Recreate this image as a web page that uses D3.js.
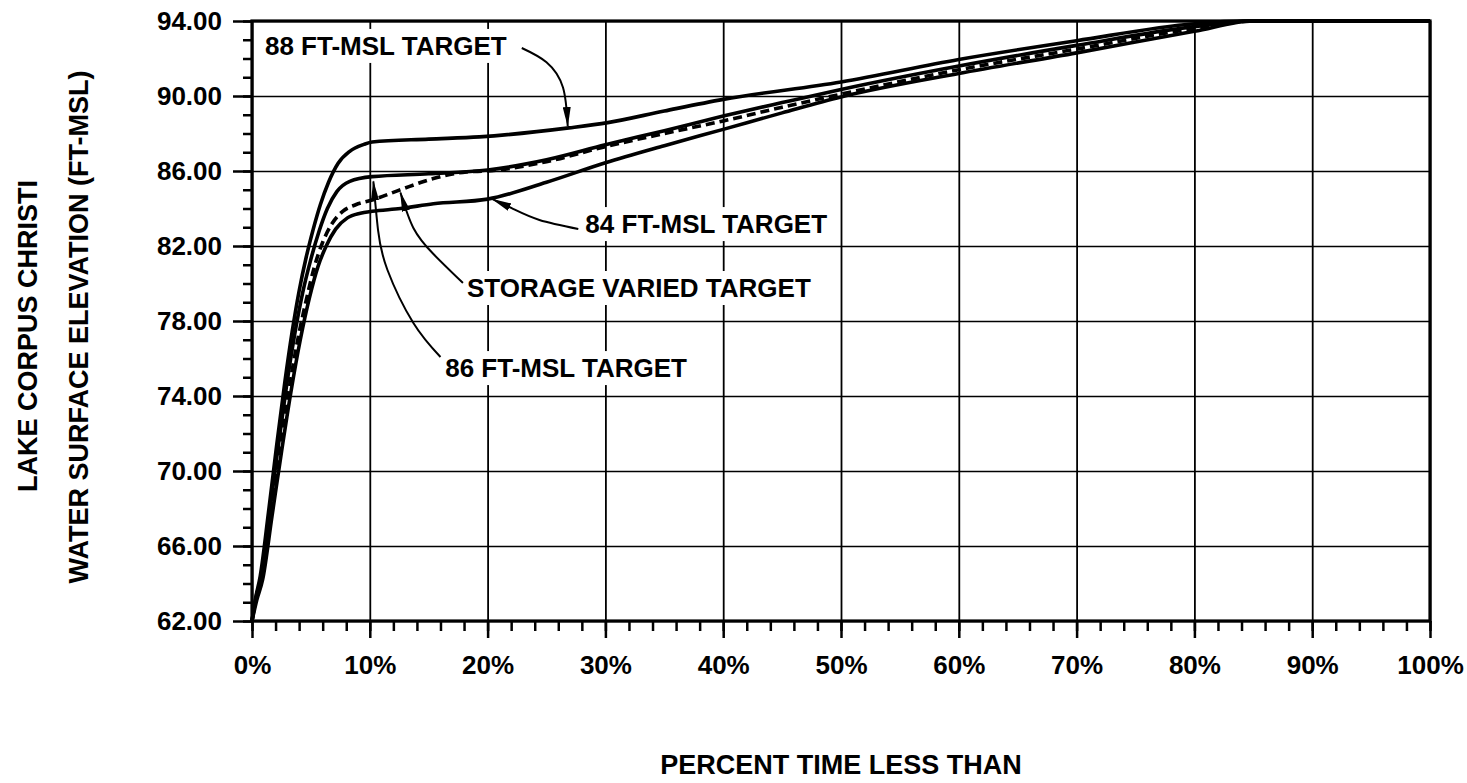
<!DOCTYPE html>
<html>
<head>
<meta charset="utf-8">
<script src="https://cdn.jsdelivr.net/npm/d3@7"></script>
<style>
  body { margin: 0; background: #fff; }
  text { font-family: "Liberation Sans", Arial, Helvetica, sans-serif; font-weight: bold; fill: #000; }
</style>
</head>
<body>
<script>
// percent of time vs. elevation (ft-msl)
var pct88 = [0, 0.3, 0.7, 1.4, 2.1, 2.8, 3.4, 4.0, 4.6, 5.2, 5.8, 6.5, 7.3, 8.3, 9.5, 10.2, 15, 19.3, 26.9, 30.2, 35, 40, 50, 60, 70, 80, 84, 100];
var elev88 = [62, 63.2, 64.4, 67.8, 71.4, 74.8, 77.4, 79.6, 81.4, 82.9, 84.2, 85.4, 86.4, 87.05, 87.42, 87.55, 87.7, 87.82, 88.3, 88.58, 89.2, 89.82, 90.75, 91.95, 92.95, 93.85, 94, 94];

var pct86 = [0, 0.35, 0.8, 1.5, 2.2, 2.9, 3.6, 4.3, 5.0, 5.7, 6.4, 7.2, 8.3, 10.2, 15, 20, 25, 30, 35, 40, 45, 50, 60, 70, 80, 85, 100];
var elev86 = [62, 63.3, 64.4, 67.8, 71.2, 74.4, 77.2, 79.5, 81.3, 82.8, 84.0, 84.9, 85.45, 85.7, 85.85, 86.05, 86.6, 87.4, 88.15, 88.93, 89.65, 90.35, 91.6, 92.7, 93.7, 94, 94];

var pctStorage = [0, 0.35, 0.85, 1.6, 2.35, 3.1, 3.85, 4.6, 5.3, 6.0, 6.8, 7.7, 8.8, 10.2, 12.6, 15.4, 18.2, 20, 25, 30, 35, 40, 45, 50, 60, 70, 80, 85, 100];
var elevStorage = [62, 63.2, 64.3, 67.7, 71.1, 74.2, 76.9, 79.1, 80.9, 82.2, 83.2, 83.85, 84.2, 84.45, 85.0, 85.6, 85.95, 86.0, 86.5, 87.3, 88.0, 88.67, 89.4, 90.1, 91.4, 92.5, 93.6, 94, 94];

var pct84 = [0, 0.4, 0.9, 1.7, 2.5, 3.3, 4.1, 4.9, 5.6, 6.3, 7.1, 8.1, 9.2, 10.2, 12.6, 15.4, 20, 25, 30, 35, 40, 45, 50, 60, 70, 80, 85, 100];
var elev84 = [62, 63.1, 64.2, 67.6, 71.0, 74.2, 77.0, 79.3, 80.9, 82.0, 82.9, 83.5, 83.75, 83.85, 84.0, 84.25, 84.5, 85.4, 86.44, 87.35, 88.22, 89.1, 89.95, 91.2, 92.3, 93.45, 94, 94];

var xTicks = [0, 10, 20, 30, 40, 50, 60, 70, 80, 90, 100];
var yTicks = [62, 66, 70, 74, 78, 82, 86, 90, 94];

// annotation labels and their leader arrows (data coords)
var labelText = ["88 FT-MSL TARGET", "84 FT-MSL TARGET", "STORAGE VARIED TARGET", "86 FT-MSL TARGET"];
var labelPct = [1.1, 28.3, 18.25, 16.4];
var labelElev = [92.19, 82.69, 79.28, 75.01];
var arrow88 = [[22.9, 92.56], [25.0, 91.8], [26.4, 90.45], [26.8, 88.4]];
var arrow84 = [[27.7, 82.91], [24.4, 83.39], [22.2, 83.97], [20.4, 84.5]];
var arrowStorage = [[17.9, 80.03], [15.4, 81.57], [13.7, 82.96], [12.6, 84.85]];
var arrow86 = [[16.0, 76.08], [13.7, 77.89], [11.5, 80.72], [10.7, 82.85], [10.3, 85.45]];

var margin = {top: 21, right: 37, bottom: 162, left: 252},
    width = 1467 - margin.left - margin.right,
    height = 783 - margin.top - margin.bottom;

var x = d3.scaleLinear().domain([0, 100]).range([0, width]);
var y = d3.scaleLinear().domain([62, 94]).range([height, 0]);

var root = d3.select("body").append("svg")
    .attr("width", 1467)
    .attr("height", 783);

root.append("defs").append("marker")
    .attr("id", "arrowhead")
    .attr("viewBox", "0 0 20 8")
    .attr("refX", 19)
    .attr("refY", 4)
    .attr("markerWidth", 20)
    .attr("markerHeight", 8)
    .attr("markerUnits", "userSpaceOnUse")
    .attr("orient", "auto")
  .append("path")
    .attr("d", "M0,0 L20,4 L0,8 Z")
    .attr("fill", "#000");

var svg = root.append("g")
    .attr("transform", "translate(" + margin.left + "," + margin.top + ")");

// grid
svg.append("g")
    .attr("class", "grid")
    .attr("transform", "translate(0," + height + ")")
    .call(d3.axisBottom(x).tickValues(xTicks).tickSize(-height).tickFormat(""))
    .call(function(g) { g.select(".domain").remove(); })
    .selectAll("line").attr("stroke", "#000").attr("stroke-width", 1.8);

svg.append("g")
    .attr("class", "grid")
    .call(d3.axisLeft(y).tickValues(yTicks).tickSize(-width).tickFormat(""))
    .call(function(g) { g.select(".domain").remove(); })
    .selectAll("line").attr("stroke", "#000").attr("stroke-width", 1.4);

// label text with white boxes that break the grid
var labels = svg.append("g");
var labelG = labels.selectAll("g")
    .data(labelText)
  .enter().append("g");
labelG.append("rect").attr("fill", "#fff");
labelG.append("text")
    .attr("x", function(d, i) { return x(labelPct[i]); })
    .attr("y", function(d, i) { return y(labelElev[i]); })
    .style("font-size", "26px")
    .text(function(d) { return d; });
labelG.each(function() {
  var g = d3.select(this);
  var b = g.select("text").node().getBBox();
  g.select("rect")
    .attr("x", b.x - 4).attr("y", b.y - 2)
    .attr("width", b.width + 8).attr("height", b.height + 4);
});

// curves
var line = d3.line()
    .x(function(d) { return x(d[0]); })
    .y(function(d) { return y(d[1]); })
    .curve(d3.curveMonotoneX);

function pairs(p, e) { return p.map(function(v, i) { return [v, e[i]]; }); }

var series = [
  {pts: pairs(pct84, elev84), dash: null},
  {pts: pairs(pct86, elev86), dash: null},
  {pts: pairs(pct88, elev88), dash: null},
  {pts: pairs(pctStorage, elevStorage), dash: "9,5"}
];

svg.selectAll(".curve")
    .data(series)
  .enter().append("path")
    .attr("class", "curve")
    .attr("fill", "none")
    .attr("stroke", "#000")
    .attr("stroke-width", 3.6)
    .attr("stroke-linejoin", "round")
    .attr("stroke-dasharray", function(d) { return d.dash; })
    .attr("d", function(d) { return line(d.pts); });

// leader arrows
var leader = d3.line()
    .x(function(d) { return x(d[0]); })
    .y(function(d) { return y(d[1]); })
    .curve(d3.curveNatural);

svg.selectAll(".leader")
    .data([arrow88, arrow84, arrowStorage, arrow86])
  .enter().append("path")
    .attr("class", "leader")
    .attr("fill", "none")
    .attr("stroke", "#000")
    .attr("stroke-width", 2)
    .attr("marker-end", "url(#arrowhead)")
    .attr("d", leader);

// axes
svg.append("g")
    .attr("transform", "translate(0," + height + ")")
    .call(d3.axisBottom(x).tickValues(d3.range(0, 101, 2)).tickSize(10).tickFormat(""))
    .call(function(g) { g.select(".domain").remove(); })
    .selectAll("line").attr("stroke-width", 2.5);

svg.append("g")
    .attr("transform", "translate(0," + height + ")")
    .call(d3.axisBottom(x).tickValues(xTicks).tickSize(17).tickPadding(18).tickFormat(function(d) { return d + "%"; }))
    .call(function(g) { g.select(".domain").remove(); })
    .call(function(g) { g.selectAll("line").attr("stroke-width", 2.5); })
    .selectAll("text").style("font-size", "26px");

svg.append("g")
    .call(d3.axisLeft(y).tickValues(d3.range(62, 95, 1)).tickSize(9).tickFormat(""))
    .call(function(g) { g.select(".domain").remove(); })
    .selectAll("line").attr("stroke-width", 2.5);

svg.append("g")
    .call(d3.axisLeft(y).tickValues(yTicks).tickSize(19).tickPadding(11).tickFormat(d3.format(".2f")))
    .call(function(g) { g.select(".domain").remove(); })
    .call(function(g) { g.selectAll("line").attr("stroke-width", 2.5); })
    .selectAll("text").style("font-size", "26px");

// frame
svg.append("rect")
    .attr("width", width)
    .attr("height", height)
    .attr("fill", "none")
    .attr("stroke", "#000")
    .attr("stroke-width", 3.2);

// titles
root.append("text")
    .attr("x", margin.left + width / 2)
    .attr("y", 774)
    .attr("text-anchor", "middle")
    .style("font-size", "27px")
    .text("PERCENT TIME LESS THAN");

root.append("text")
    .attr("transform", "translate(37,336) rotate(-90)")
    .attr("text-anchor", "middle")
    .style("font-size", "27px")
    .text("LAKE CORPUS CHRISTI");

root.append("text")
    .attr("transform", "translate(88,327) rotate(-90)")
    .attr("text-anchor", "middle")
    .style("font-size", "27px")
    .text("WATER SURFACE ELEVATION (FT-MSL)");
</script>
</body>
</html>
